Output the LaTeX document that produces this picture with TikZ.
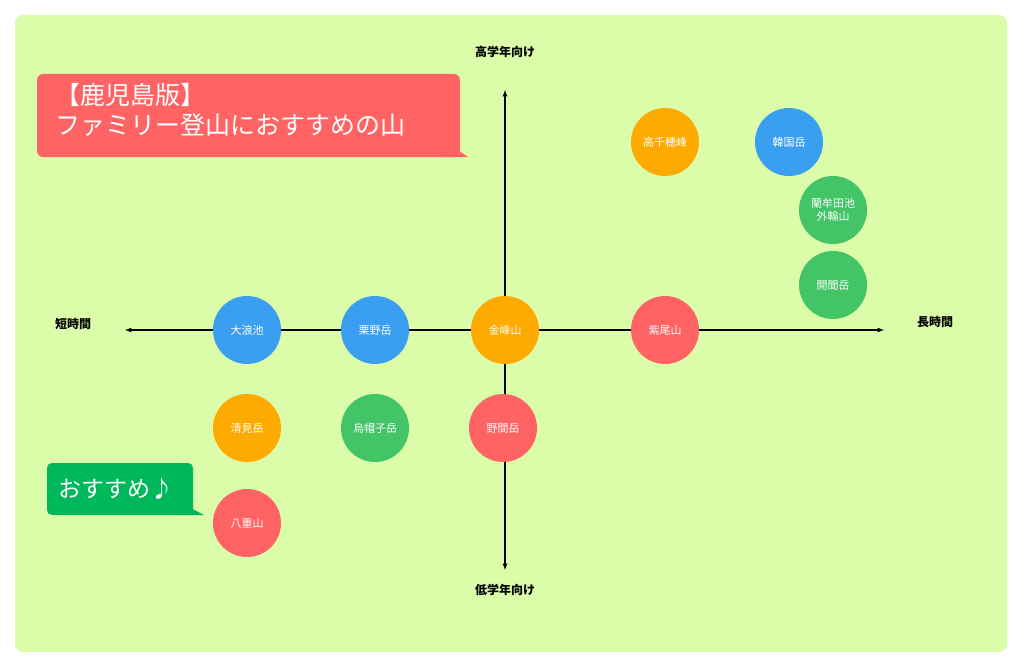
\documentclass[tikz,border=0pt]{standalone}
\usepackage{fontspec}
\setmainfont{Noto Sans CJK JP}
\begin{document}
\begin{tikzpicture}[x=1pt,y=-1pt,
 mt/.style={circle,minimum size=68pt,inner sep=0pt,text=white,font=\fontsize{11}{13}\selectfont,align=center},
 cO/.style={mt,fill=orange1},cB/.style={mt,fill=blue1},cG/.style={mt,fill=green1},cR/.style={mt,fill=red1},
 ax/.style={font=\bfseries\fontsize{12}{14}\selectfont},
 arr/.style={-latex,line width=1.2pt}]
\definecolor{bg}{HTML}{DBFCA8}\definecolor{orange1}{HTML}{FFAA00}\definecolor{blue1}{HTML}{3A9FF0}
\definecolor{green1}{HTML}{43C466}\definecolor{red1}{HTML}{FF6363}\definecolor{bub}{HTML}{00B85C}
\useasboundingbox (0,0) rectangle (1024,666);
\fill[white] (0,0) rectangle (1024,666);
\fill[bg,rounded corners=8pt] (15,15) rectangle (1007,652);
\coordinate (c) at (505,330);
\coordinate (L) at (125,330);\coordinate (R) at (884,330);
\coordinate (T) at (505,90);\coordinate (B) at (505,570);
\draw[arr] (c)--(L);\draw[arr] (c)--(R);\draw[arr] (c)--(T);\draw[arr] (c)--(B);
\node[ax] (t) at (505,52) {高学年向け};
\node[ax] (b) at (505,590) {低学年向け};
\node[ax] (l) at (73,324) {短時間};
\node[ax] (r) at (935,322) {長時間};
\node[cB] (n1) at (247,330) {大浪池};
\node[cB] (n2) at (375,330) {栗野岳};
\node[cO] (n3) at (505,330) {金峰山};
\node[cR] (n4) at (665,330) {紫尾山};
\node[cO] (n5) at (665,142) {高千穂峰};
\node[cB] (n6) at (789,142) {韓国岳};
\node[cG] (n7) at (833,210) {蘭牟田池\\外輪山};
\node[cG] (n8) at (833,285) {開聞岳};
\node[cO] (n9) at (247,428) {清見岳};
\node[cG] (n10) at (375,428) {烏帽子岳};
\node[cR] (n11) at (503,428) {野間岳};
\node[cR] (n12) at (247,523) {八重山};
% red bubble
\fill[red1,rounded corners=6pt] (37,74) rectangle (460,157);
\fill[red1] (450,145) -- (468,157) -- (445,157) -- cycle;
\node[text=white,font=\fontsize{25}{30}\selectfont,align=left,anchor=north west] (title) at (52,80) {【鹿児島版】\\ファミリー登山におすすめの山};
% green bubble
\fill[bub,rounded corners=5pt] (47,463) rectangle (193,515);
\fill[bub] (185,505) -- (204,515) -- (180,515) -- cycle;
\node[text=white,font=\fontsize{23}{26}\selectfont,anchor=west] (rec) at (55,489) {おすすめ♪};
\end{tikzpicture}
\end{document}
